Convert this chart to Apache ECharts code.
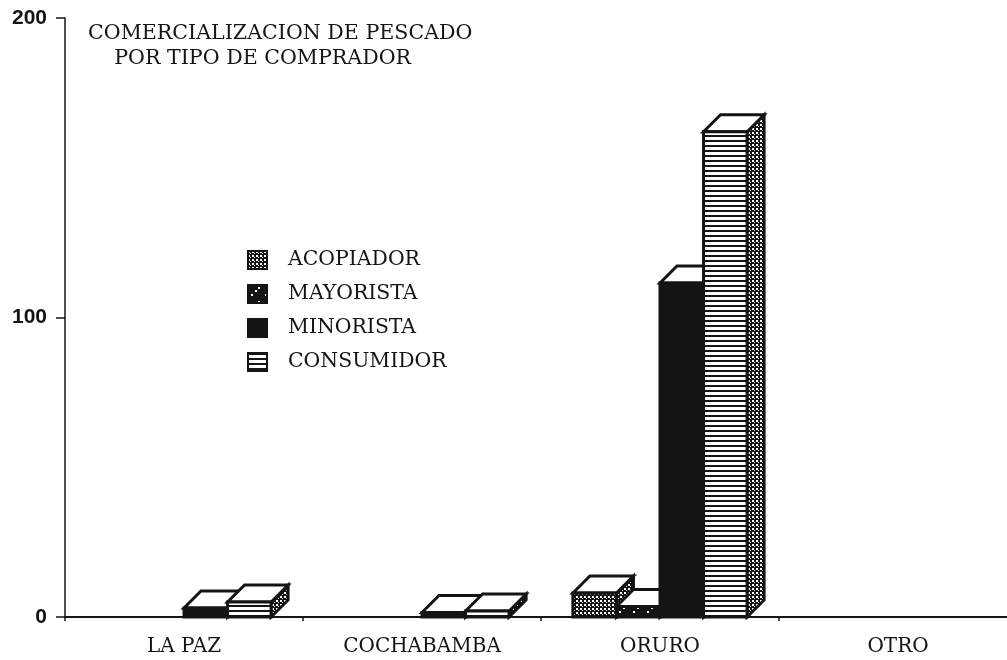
<!DOCTYPE html>
<html>
<head>
<meta charset="utf-8">
<style>
  html, body { margin: 0; padding: 0; background: #fff; }
  #main { width: 1007px; height: 660px; }
</style>
<script src="https://cdn.jsdelivr.net/npm/echarts@6/dist/echarts.min.js"></script>
</head>
<body>
<div id="main"></div>
<script>
const categories = ["LA PAZ", "COCHABAMBA", "ORURO", "OTRO"];
const acopiador = [0, 0, 8, 0];
const mayorista = [0, 0, 3.5, 0];
const minorista = [3, 1.5, 111.5, 0];
const consumidor = [5, 2, 162, 0];
const yTicks = [0, 100, 200];

const INK = "#141414";

// tramas de relleno, dibujadas en un canvas pequeño
function makePattern(size, draw) {
  const c = document.createElement("canvas");
  c.width = size;
  c.height = size;
  const ctx = c.getContext("2d");
  draw(ctx);
  return { image: c, repeat: "repeat" };
}

const dots = makePattern(4, (ctx) => {
  ctx.fillStyle = INK;
  ctx.fillRect(0, 0, 4, 4);
  ctx.fillStyle = "#fff";
  ctx.fillRect(0, 0, 2, 2);
  ctx.fillRect(2, 2, 1, 1);
});
const sparse = makePattern(14, (ctx) => {
  ctx.fillStyle = INK;
  ctx.fillRect(0, 0, 14, 14);
  ctx.fillStyle = "#fff";
  ctx.fillRect(10, 2, 2, 2);
  ctx.fillRect(7, 5, 2, 2);
  ctx.fillRect(3, 9, 2, 2);
});
const stripes = makePattern(5, (ctx) => {
  ctx.fillStyle = "#fff";
  ctx.fillRect(0, 0, 5, 5);
  ctx.fillStyle = INK;
  ctx.fillRect(0, 0, 5, 2);
});

const seriesDefs = [
  { name: "ACOPIADOR", values: acopiador, front: dots, side: dots, slot: 0 },
  { name: "MAYORISTA", values: mayorista, front: sparse, side: sparse, slot: 1 },
  { name: "MINORISTA", values: minorista, front: INK, side: INK, slot: 2 },
  { name: "CONSUMIDOR", values: consumidor, front: stripes, side: dots, slot: 3 },
];

// barra 3D: cara frontal, cara lateral y tapa blanca
function bar3d(def) {
  return function (params, api) {
    const v = api.value(1);
    if (!v) return null; // en el original los ceros no se dibujan
    const base = api.coord([api.value(0), 0]);
    const top = api.coord([api.value(0), v]);
    const w = api.size([1, 0])[0] * 0.183;
    const d = 17;
    const x0 = base[0] - 2 * w + def.slot * w;
    const x1 = x0 + w;
    const y0 = top[1];
    const y1 = base[1];
    const line = { stroke: INK, lineWidth: 3, lineJoin: "miter" };
    return {
      type: "group",
      children: [
        { type: "polygon", shape: { points: [[x1, y0], [x1 + d, y0 - d], [x1 + d, y1 - d], [x1, y1]] },
          style: { fill: def.side, ...line } },
        { type: "polygon", shape: { points: [[x0, y0], [x0 + d, y0 - d], [x1 + d, y0 - d], [x1, y0]] },
          style: { fill: "#fff", ...line } },
        { type: "rect", shape: { x: x0, y: y0, width: w, height: y1 - y0 },
          style: { fill: def.front, ...line } },
      ],
    };
  };
}

const myChart = echarts.init(document.getElementById("main"), null, { renderer: "canvas" });
myChart.setOption({
  animation: false,
  backgroundColor: "#fff",
  title: {
    text: "COMERCIALIZACION DE PESCADO\n    POR TIPO DE COMPRADOR",
    left: 88,
    top: 21,
    padding: 0,
    textStyle: { fontFamily: "DejaVu Serif", fontSize: 20.6, fontWeight: "normal", color: INK, lineHeight: 25 },
  },
  legend: {
    orient: "vertical",
    left: 247,
    top: 250,
    padding: 0,
    itemWidth: 19,
    itemHeight: 18,
    itemGap: 14,
    icon: "rect",
    textStyle: { fontFamily: "DejaVu Serif", fontSize: 20.4, lineHeight: 18, color: INK, padding: [0, 0, 0, 16] },
    data: seriesDefs.map((d) => d.name),
  },
  grid: { left: 65, top: 18, right: -10, bottom: 43, outerBoundsMode: "none" },
  xAxis: {
    type: "category",
    data: categories,
    axisLine: { lineStyle: { color: INK, width: 2 } },
    axisTick: { show: true, length: 4, lineStyle: { color: INK, width: 1.5 } },
    axisLabel: { margin: 20, fontFamily: "DejaVu Serif", fontSize: 20, color: INK, interval: 0 },
  },
  yAxis: {
    type: "value",
    min: yTicks[0],
    max: yTicks[2],
    interval: 100,
    splitLine: { show: false },
    axisLine: { show: true, lineStyle: { color: INK, width: 1.5 } },
    axisTick: { show: true, length: 9, lineStyle: { color: INK, width: 1.5 } },
    axisLabel: { margin: 18, fontFamily: "Liberation Sans", fontWeight: "bold", fontSize: 21, color: INK },
  },
  series: seriesDefs.map((def) => ({
    name: def.name,
    type: "custom",
    renderItem: bar3d(def),
    itemStyle: { color: def.front, borderColor: INK, borderWidth: 2 },
    encode: { x: 0, y: 1 },
    clip: false,
    data: def.values.map((v, i) => [i, v]),
  })),
});
</script>
</body>
</html>
